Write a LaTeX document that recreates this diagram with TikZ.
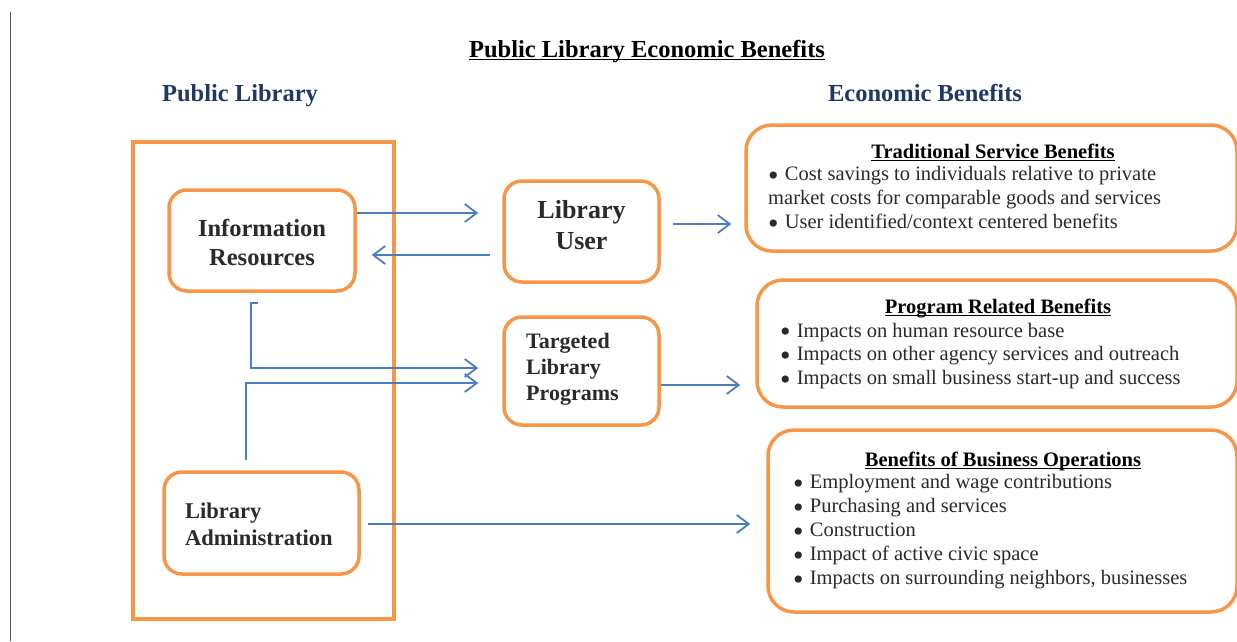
\documentclass[tikz,border=0pt]{standalone}
\usepackage{fontspec}
\setmainfont{Liberation Serif}
\usetikzlibrary{arrows.meta}
\definecolor{orng}{HTML}{F79646}
\definecolor{blu}{HTML}{4A7EC0}
\definecolor{navy}{HTML}{1F3864}
\definecolor{txt}{HTML}{2A2A2A}
\definecolor{frame}{HTML}{555555}
\newcommand\myul[1]{\setbox0\hbox{#1}\rlap{\rule[-3pt]{\wd0}{1.3pt}}\box0}
\newcommand\bul{\raisebox{-4.8pt}[0pt][0pt]{\fontsize{30}{30}\selectfont•}\hspace{0.3em}}
\begin{document}
\begin{tikzpicture}[x=1pt,y=-1pt,
  obox/.style={draw=orng, line width=3.5pt, rounded corners=18pt, inner sep=0pt},
  bbox/.style={draw=orng, line width=3.5pt, rounded corners=26pt, inner sep=0pt},
  sbox/.style={draw=orng, line width=3.5pt, inner sep=0pt},
  arr/.style={draw=blu, line width=1.8pt, -{Straight Barb[length=12pt,width=18pt,line width=1.8pt]}},
  lbl/.style={text=txt, inner sep=0pt, font=\bfseries\fontsize{24.5}{29}\selectfont},
  lbls/.style={text=txt, inner sep=0pt, font=\bfseries\fontsize{22.5}{26.5}\selectfont},
  head/.style={text=black, inner sep=0pt, font=\bfseries\fontsize{20.5}{23.5}\selectfont},
  body/.style={text=txt, inner sep=0pt, align=left, font=\fontsize{20.5}{23.8}\selectfont},
  colhead/.style={text=navy, inner sep=0pt, anchor=base, font=\bfseries\fontsize{24.5}{29}\selectfont}]
\useasboundingbox (0,0) rectangle (1237,641);
\fill[white] (0,0) rectangle (1237,641);
% left page rule
\coordinate (rt) at (10.5,12);
\coordinate (rb) at (10.5,641);
\draw[frame, line width=1.5pt] (rt) -- (rb);
% titles
\node[text=black, inner sep=0pt, font=\bfseries\fontsize{24.5}{29}\selectfont, anchor=base] (title) at (647,57) {\myul{Public Library Economic Benefits}};
\node[colhead] (pl) at (240,101.5) {Public Library};
\node[colhead] (eb) at (925,101.5) {Economic Benefits};
% left group
\node[sbox, minimum width=261pt, minimum height=477pt] (grp) at (263.5,380.5) {};
\node[obox, minimum width=186pt, minimum height=101pt] (ir) at (262,240.5) {};
\node[lbl, align=center] (irt) at (262,242.5) {Information\\Resources};
\node[obox, minimum width=195pt, minimum height=102pt] (la) at (261.5,523) {};
\node[lbls, align=left, anchor=west] (lat) at (185,524.5) {Library\\Administration};
% middle
\node[obox, minimum width=155pt, minimum height=101pt] (lu) at (581.5,231.5) {};
\node[lbl, align=center, font=\bfseries\fontsize{26}{31}\selectfont] (lut) at (581.5,225.5) {Library\\User};
\node[obox, minimum width=155pt, minimum height=108pt] (tlp) at (581.5,371) {};
\node[lbls, align=left, anchor=west, font=\bfseries\fontsize{22}{26}\selectfont] (tlpt) at (526,369) {Targeted\\Library\\Programs};
% right boxes
\node[bbox, minimum width=491pt, minimum height=126pt] (tsb) at (991.5,188) {};
\node[head, anchor=base] (tsbh) at (993,158) {\myul{Traditional Service Benefits}};
\node[body, anchor=west] (tsbb) at (768,197.5) {\bul Cost savings to individuals relative to private\\market costs for comparable goods and services\\\bul User identified/context centered benefits};
\node[bbox, minimum width=480pt, minimum height=127pt] (prb) at (997,343.5) {};
\node[head, anchor=base] (prbh) at (998,313) {\myul{Program Related Benefits}};
\node[body, anchor=west] (prbb) at (780,356) {\bul Impacts on human resource base\\\bul Impacts on other agency services and outreach\\\bul Impacts on small business start-up and success};
\node[bbox, minimum width=469pt, minimum height=182pt] (bbo) at (1002.5,521) {};
\node[head, anchor=base] (bboh) at (1003,466) {\myul{Benefits of Business Operations}};
\node[body, anchor=west, font=\fontsize{20.5}{24}\selectfont] (bbob) at (793,531.5) {\bul Employment and wage contributions\\\bul Purchasing and services\\\bul Construction\\\bul Impact of active civic space\\\bul Impacts on surrounding neighbors, businesses};
% connectors
\draw[arr, shorten >=24pt] ([yshift=27.5pt]ir.east) -- ([yshift=18.5pt]lu.west);
\draw[arr, shorten <=12pt, shorten >=15pt] ([yshift=-23.5pt]lu.west) -- ([yshift=-14.5pt]ir.east);
\draw[arr, shorten <=12pt, shorten >=13pt] ([yshift=7.5pt]lu.east) -- ([yshift=-36pt]tsb.west);
\draw[arr, shorten >=24pt] ([xshift=-4pt,yshift=-10.5pt]ir.south) -- ++(-7,0) |- ([yshift=3pt]tlp.west);
\draw[arr, shorten >=24pt] ([xshift=-15.5pt,yshift=10pt]la.north) |- ([yshift=-12pt]tlp.west);
\draw[arr, shorten >=15pt] ([yshift=-14pt]tlp.east) -- ([yshift=-41.5pt]prb.west);
\draw[arr, shorten <=7pt, shorten >=16pt] ([yshift=-1pt]la.east) -- ([yshift=-3pt]bbo.west);
\end{tikzpicture}
\end{document}
